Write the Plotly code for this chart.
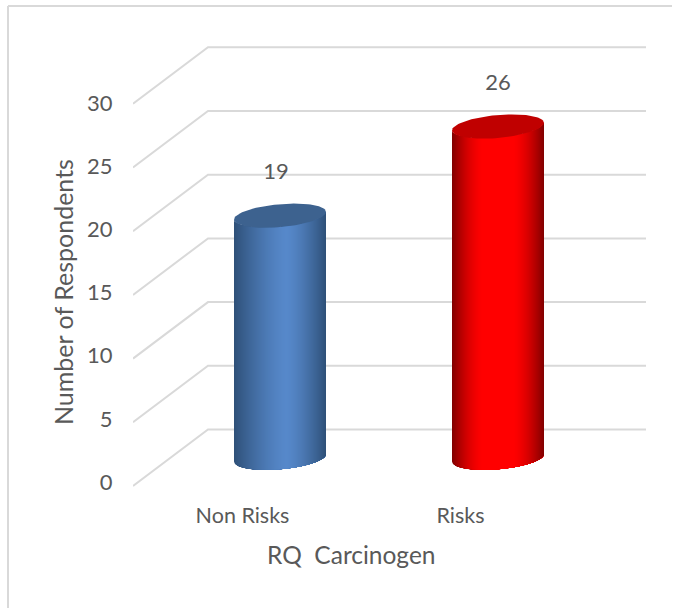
import numpy as np
import plotly.graph_objects as go

categories = ["Non Risks", "Risks"]
values = [19, 26]
y_ticks = [0, 5, 10, 15, 20, 25, 30]
x_title = "RQ  Carcinogen"
y_title = "Number of Respondents"
FONT = "Lato"
TXT = "#595959"
GRID = "#D9D9D9"

W, H = 676, 608
L, R, T, B = 133, 646, 40, 492      # plot box in px
PX_X = 218.0                         # px per category step
X0 = 242.5                           # px of first category
PX_Y = 12.74                         # px per unit, geometry axis
Y0 = 486.0                           # px of zero on front plane
LABEL_PX_Y = 12.63                   # px per unit, tick-label axis
LABEL_Y0 = 482.0
DEPTH_X = 75.0 / PX_X                # depth offset in data units
DEPTH_Y = 56.5 / PX_Y
RX = 46.0 / PX_X
RY = 11.5 / PX_Y
TILT = 3.8 / PX_Y
N = 92

styles = [
    dict(mid=(86, 136, 202), edge=(46, 80, 120), top=(61, 98, 143), peak=0.57, plateau=0.0, power=1.4),
    dict(mid=(255, 0, 0), edge=(128, 0, 0), top=(192, 0, 0), peak=0.50, plateau=0.32, power=1.6),
]

fig = go.Figure()
xs = list(range(len(categories)))


def add_line(x, y, width):
    fig.add_trace(go.Scatter(x=x, y=y, mode="lines", line=dict(color=GRID, width=width),
                             yaxis="y2", hoverinfo="skip", showlegend=False))


xr = [(L - X0) / PX_X, (R - X0) / PX_X]

# invisible carrier so the tick-label axis is drawn
fig.add_trace(go.Scatter(x=[xr[0]] * len(y_ticks), y=y_ticks, mode="markers",
                         marker=dict(opacity=0, size=1), hoverinfo="skip", showlegend=False))

for v in y_ticks:
    add_line([xr[0], xr[0] + DEPTH_X, xr[1]], [v, v + DEPTH_Y, v + DEPTH_Y], 2)


def ellipse(cx, cy, t):
    return cx + RX * np.cos(t), cy + RY * np.sin(t) + TILT * np.cos(t)


def shade(u, s):
    d = abs(u - s["peak"]) / (s["peak"] if u < s["peak"] else 1 - s["peak"])
    d = max(0.0, (d - s["plateau"]) / (1 - s["plateau"]))
    k = 1 - d ** s["power"]
    c = [int(round(e + (m - e) * k)) for e, m in zip(s["edge"], s["mid"])]
    return f"rgb({c[0]},{c[1]},{c[2]})"


for i, val in enumerate(values):
    s = styles[i]
    cx = xs[i] + DEPTH_X / 2
    base = DEPTH_Y / 2
    for j in range(N):
        u0 = j / N
        # painter's order: every strip runs to the right edge, so no seams appear
        start = 2 * np.pi - np.arccos(2 * u0 - 1)
        t = np.linspace(start, 2 * np.pi, 40)
        ex, ey = ellipse(cx, base, t)
        px = list(ex) + list(ex[::-1])
        py = list(ey) + list((ey + val)[::-1])
        col = shade((j + 0.5) / N, s)
        fig.add_trace(go.Scatter(x=px, y=py, mode="lines", fill="toself", fillcolor=col,
                                 line=dict(width=0), yaxis="y2",
                                 hoverinfo="skip", showlegend=False))
    t = np.linspace(0, 2 * np.pi, 90)
    ex, ey = ellipse(cx, base + val, t)
    col = "rgb(%d,%d,%d)" % s["top"]
    fig.add_trace(go.Scatter(x=ex, y=ey, mode="lines", fill="toself", fillcolor=col,
                             line=dict(width=0), yaxis="y2",
                             hoverinfo="skip", showlegend=False))

fig.add_trace(go.Scatter(
    x=[i + DEPTH_X / 2 - (4 if i == 0 else 0) / PX_X for i in xs],
    y=[v + DEPTH_Y / 2 + 42.5 / PX_Y for v in values],
    mode="text", text=[str(v) for v in values], textposition="middle center",
    textfont=dict(family=FONT, size=22, color=TXT), yaxis="y2",
    hoverinfo="skip", showlegend=False))


def rng(y0, scale):
    return [(y0 - B) / scale, (y0 - T) / scale]


def paper_x(p):
    return (p - L) / (R - L)


def paper_y(p):
    return (B - p) / (B - T)


fig.update_layout(
    width=W, height=H, autosize=False,
    margin=dict(l=L, r=W - R, t=T, b=H - B, pad=0),
    paper_bgcolor="white", plot_bgcolor="rgba(0,0,0,0)",
    font=dict(family=FONT, color=TXT),
    xaxis=dict(range=xr, tickmode="array", tickvals=xs, ticktext=categories, showgrid=False,
               zeroline=False, showline=False, ticks="outside", ticklen=4, tickcolor="rgba(0,0,0,0)",
               tickfont=dict(family=FONT, size=21.5, color=TXT), fixedrange=True),
    yaxis=dict(range=rng(LABEL_Y0, LABEL_PX_Y), tickmode="array", tickvals=y_ticks,
               ticktext=[str(v) for v in y_ticks], showgrid=False, zeroline=False, showline=False,
               ticks="outside", ticklen=15, tickcolor="rgba(0,0,0,0)",
               tickfont=dict(family=FONT, size=22, color=TXT), fixedrange=True),
    yaxis2=dict(range=rng(Y0, PX_Y), overlaying="y", side="left", visible=False, fixedrange=True),
    annotations=[
        dict(text=x_title, xref="paper", yref="paper", x=paper_x(351), y=paper_y(554), showarrow=False,
             xanchor="center", yanchor="middle", font=dict(family=FONT, size=24.5, color=TXT)),
        dict(text=y_title, xref="paper", yref="paper", x=paper_x(63), y=paper_y(292), showarrow=False,
             textangle=-90, xanchor="center", yanchor="middle", font=dict(family=FONT, size=25, color=TXT)),
    ],
    shapes=[
        dict(type="line", xref="paper", yref="paper", x0=paper_x(8), x1=paper_x(8), y0=paper_y(6), y1=paper_y(608),
             line=dict(color=GRID, width=2)),
        dict(type="line", xref="paper", yref="paper", x0=paper_x(8), x1=paper_x(672), y0=paper_y(6), y1=paper_y(6),
             line=dict(color=GRID, width=2)),
    ],
)
fig.write_html("out.html", config={"displayModeBar": False},
               post_script="document.body.style.margin='0';")
